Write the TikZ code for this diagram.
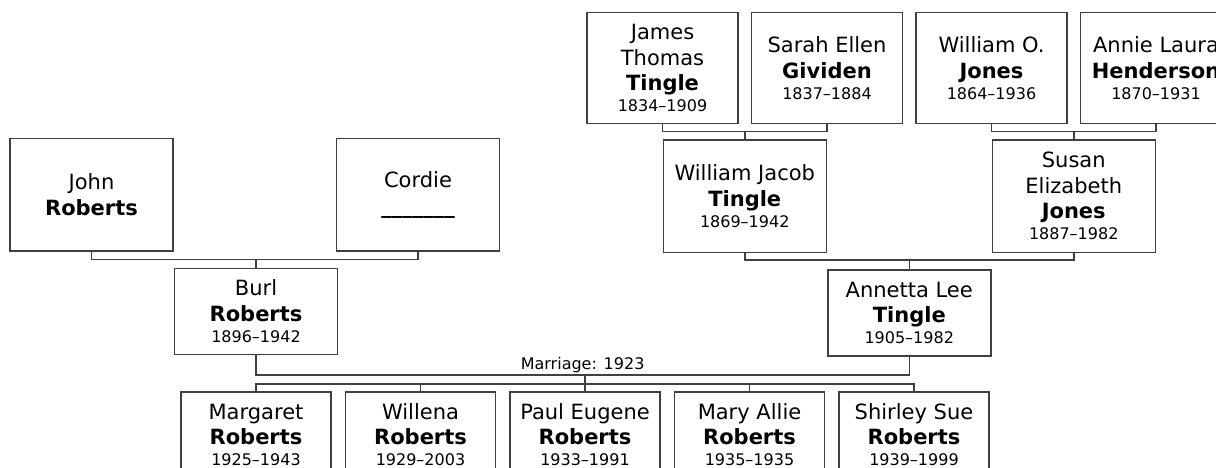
\documentclass[tikz,border=0pt]{standalone}
\usepackage{fontspec}
\setmainfont{DejaVu Sans}
\usetikzlibrary{positioning}
\newcommand{\yrs}[1]{\\[-4.5pt]{\fontsize{16}{21}\selectfont #1}}

\begin{document}
\begin{tikzpicture}[
  x=1pt, y=-1pt,
  node distance=12pt,
  line width=1.5pt,
  person/.style={draw=black!75, align=center, inner sep=2pt,
                 font=\fontsize{21}{25.5}\selectfont},
  grand/.style={person, minimum width=151pt, minimum height=111pt},
  parent/.style={person, minimum width=163pt, minimum height=112pt},
  couple/.style={person, minimum width=163pt, minimum height=86pt},
  child/.style={person, minimum width=150pt, minimum height=86pt},
  link/.style={draw=black!75}
]
\useasboundingbox (0,0) rectangle (1216,468);
\clip (0,0) rectangle (1216,468);

\node[grand, anchor=north] (jtingle) at (662.5,12) {James\\Thomas\\\textbf{Tingle}\yrs{1834--1909}};
\node[grand, right=of jtingle] (sgividen) {Sarah Ellen\\\textbf{Gividen}\yrs{1837--1884}};
\node[grand, right=of sgividen] (wjones) {William O.\\\textbf{Jones}\yrs{1864--1936}};
\node[grand, right=of wjones] (ahenderson) {Annie Laura\\\textbf{Henderson}\yrs{1870--1931}};

\node[parent, anchor=north] (john) at (91.5,138) {John\\\textbf{Roberts}};
\node[parent, anchor=north] (cordie) at (418,138) {Cordie\\\textbf{\_\_\_\_\_\_\_}};
\node[parent, anchor=north west] (wtingle) at ([yshift=-15pt]jtingle.south) {William Jacob\\\textbf{Tingle}\yrs{1869--1942}};
\node[parent, anchor=north west] (sjones) at ([yshift=-15pt]wjones.south) {Susan\\Elizabeth\\\textbf{Jones}\yrs{1887--1982}};

\node[couple, anchor=north west] (burl) at ([yshift=-16pt]john.south east) {Burl\\\textbf{Roberts}\yrs{1896--1942}};
\node[couple, anchor=north west] (atingle) at ([yshift=-16pt]wtingle.south east) {Annetta Lee\\\textbf{Tingle}\yrs{1905--1982}};

\node[child, below=36pt of burl] (margaret) {Margaret\\\textbf{Roberts}\yrs{1925--1943}};
\node[child, right=13pt of margaret] (willena) {Willena\\\textbf{Roberts}\yrs{1929--2003}};
\node[child, right=13pt of willena] (paul) {Paul Eugene\\\textbf{Roberts}\yrs{1933--1991}};
\node[child, right=13pt of paul] (maryallie) {Mary Allie\\\textbf{Roberts}\yrs{1935--1935}};
\node[child, right=13pt of maryallie] (shirley) {Shirley Sue\\\textbf{Roberts}\yrs{1939--1999}};

\draw[link] (jtingle.south) -- ++(0,7) -| (sgividen.south);
\draw[link] (wtingle.north) -- ++(0,-8);
\draw[link] (wjones.south) -- ++(0,7) -| (ahenderson.south);
\draw[link] (sjones.north) -- ++(0,-8);
\draw[link] (john.south) -- ++(0,8) -| (cordie.south);
\draw[link] (burl.north) -- ++(0,-8);
\draw[link] (wtingle.south) -- ++(0,7) -| (sjones.south);
\draw[link] (atingle.north) -- ++(0,-9);

\draw[link] (burl.south) -- ++(0,20) -| node[pos=.25, above, inner sep=1pt,
  font=\fontsize{16}{20}\selectfont] {Marriage: 1923} (atingle.south);
\draw[link] (margaret.north) -- ++(0,-7) -| (shirley.north);
\foreach \k in {willena, maryallie}
  \draw[link] (\k.north) -- ++(0,-7);
\draw[link] (paul.north) -- ++(0,-16);
\end{tikzpicture}
\end{document}
